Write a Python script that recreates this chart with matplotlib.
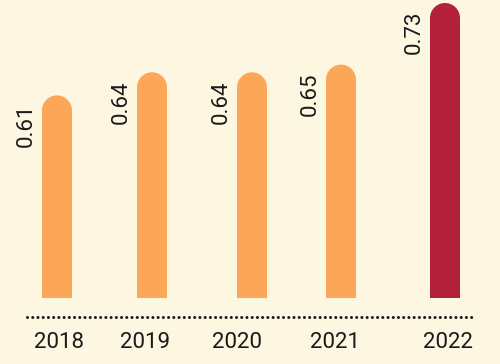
import matplotlib
matplotlib.use("Agg")
import matplotlib.pyplot as plt
from matplotlib.patches import Ellipse
from matplotlib.transforms import offset_copy

# data
years = ["2018", "2019", "2020", "2021", "2022"]
values = [0.61, 0.64, 0.64, 0.65, 0.73]

# layout (pixel positions on a 500-wide canvas)
bar_x = [57, 152, 252, 341, 445]
label_x = [59, 145, 237, 335, 448]
bar_w = 30
colors = ["#fba757", "#fba757", "#fba757", "#fba757", "#b3203b"]
bg = "#fdf6e1"

W, H, DPI = 500, 364, 100
ppu = 770.0          # pixels per value unit
base = 0.73 - 295 / 770.0   # value at bar baseline
base_px_from_top = 298

plt.rcParams["font.family"] = ["Roboto", "DejaVu Sans"]

fig = plt.figure(figsize=(W / DPI, H / DPI), dpi=DPI, facecolor=bg)
ax = fig.add_axes([0, 0, 1, 1])
ax.set_facecolor(bg)
ax.set_xlim(0, W)
ylo = base - (H - base_px_from_top) / ppu
yhi = base + base_px_from_top / ppu
ax.set_ylim(ylo, yhi)
ax.axis("off")

r = bar_w / 2.0
r_data = r / ppu

for x, v, c in zip(bar_x, values, colors):
    ax.bar(x, (v - r_data) - base, bottom=base, width=bar_w, color=c,
           linewidth=0)
    ax.add_patch(Ellipse((x, v - r_data), bar_w, 2 * r_data, facecolor=c,
                         edgecolor="none"))
    tr = offset_copy(ax.transData, fig=fig, x=-5, y=-8, units="dots")
    ax.text(x - bar_w / 2.0, v, f"{v:.2f}", rotation=90, ha="right", va="top",
            fontsize=16, color="#1a1a1a", transform=tr)

# dotted baseline
line_y = 1 - 317.0 / H
ax.plot([27 / W, 473 / W], [line_y, line_y], transform=ax.transAxes,
        color="#1a1a1a", linewidth=2.2, linestyle=(0, (0.01, 1.7)),
        dash_capstyle="round")

year_y = 1 - 343.0 / H
for lx, yr in zip(label_x, years):
    ax.text(lx / W, year_y, yr, transform=ax.transAxes, ha="center",
            va="center", fontsize=16, color="#1a1a1a")

fig.savefig("out.png", dpi=DPI, facecolor=bg)
